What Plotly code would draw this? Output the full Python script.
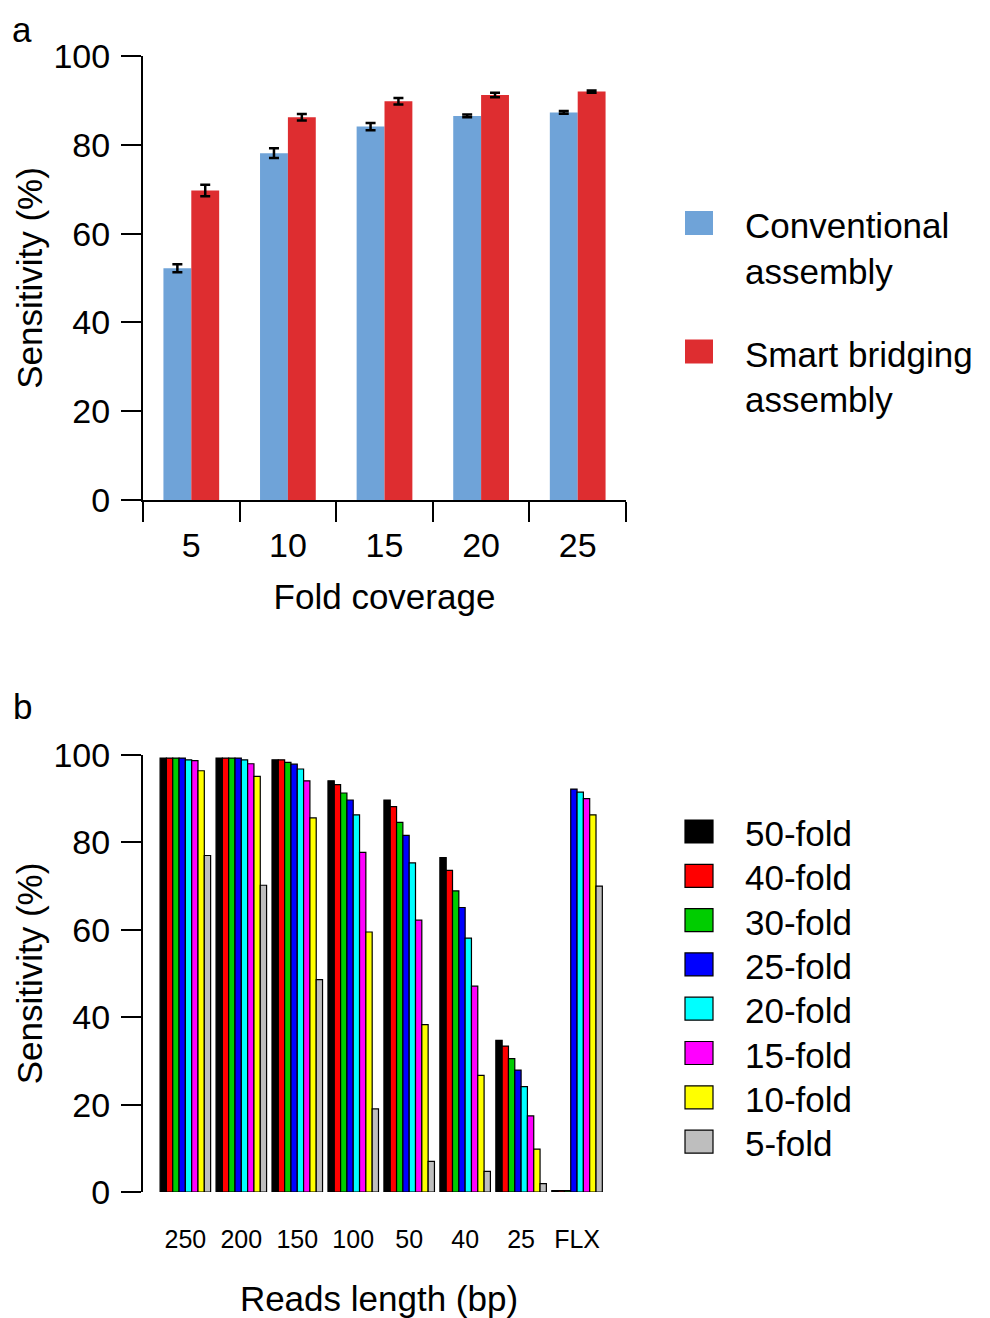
import plotly.graph_objects as go

# ---------------- data ----------------
coverage_labels = ["5", "10", "15", "20", "25"]
conventional = [52.2, 78.1, 84.1, 86.5, 87.3]
conventional_err = [0.9, 1.1, 0.8, 0.3, 0.3]
smart = [69.7, 86.2, 89.8, 91.2, 92.0]
smart_err = [1.3, 0.75, 0.75, 0.5, 0.25]

read_lengths = ["250", "200", "150", "100", "50", "40", "25", "FLX"]
fold_names = ["50-fold", "40-fold", "30-fold", "25-fold", "20-fold", "15-fold", "10-fold", "5-fold"]
fold_values = {
    "50-fold": [99.3, 99.3, 98.9, 94.1, 89.7, 76.5, 34.7, 0.3],
    "40-fold": [99.3, 99.3, 98.9, 93.2, 88.2, 73.6, 33.4, 0.3],
    "30-fold": [99.3, 99.3, 98.3, 91.3, 84.6, 68.9, 30.5, 0.3],
    "25-fold": [99.3, 99.3, 97.9, 89.7, 81.6, 65.1, 27.9, 92.2],
    "20-fold": [98.9, 98.9, 96.8, 86.3, 75.3, 58.1, 24.1, 91.5],
    "15-fold": [98.7, 98.0, 94.1, 77.7, 62.2, 47.1, 17.4, 90.0],
    "10-fold": [96.4, 95.1, 85.6, 59.5, 38.3, 26.7, 9.8, 86.3],
    "5-fold":  [77.0, 70.2, 48.6, 19.0, 7.0, 4.7, 1.9, 70.0],
}
fold_colors = ["#000000", "#ff0000", "#00cd00", "#0000ff", "#00ffff", "#ff00ff", "#ffff00", "#bebebe"]

blue = "#6fa3d8"
red = "#de2d30"

# the page has an 8px body margin, so the figure is sized to fit inside the window
OFF = 8
W, H = 990 - OFF, 1318 - OFF
FONT = "Liberation Sans, Arial, sans-serif"
TICK_SIZE = 34
TITLE_SIZE = 35
LEG_SIZE = 35

def px(x):
    return (x - OFF) / W

def py(y):
    return 1 - (y - OFF) / H

fig = go.Figure()

# ---------------- panel a ----------------
fig.add_trace(go.Bar(
    x=coverage_labels, y=conventional, name="Conventional assembly",
    marker=dict(color=blue, line=dict(width=0)),
    error_y=dict(type="data", array=conventional_err, color="black", thickness=2.5, width=5),
    xaxis="x", yaxis="y", showlegend=False,
))
fig.add_trace(go.Bar(
    x=coverage_labels, y=smart, name="Smart bridging assembly",
    marker=dict(color=red, line=dict(width=0)),
    error_y=dict(type="data", array=smart_err, color="black", thickness=2.5, width=5),
    xaxis="x", yaxis="y", showlegend=False,
))

# ---------------- panel b ----------------
n_f = len(fold_names)
group_w = 1 - 0.097
bw = group_w / n_f
for i, (name, col) in enumerate(zip(fold_names, fold_colors)):
    fig.add_trace(go.Bar(
        x=read_lengths, y=fold_values[name], name=name,
        marker=dict(color=col, line=dict(color="black", width=1.2)),
        width=bw, offset=-group_w / 2 + i * bw,
        xaxis="x2", yaxis="y2", showlegend=False,
    ))

axis_common = dict(
    showgrid=False, zeroline=False, linecolor="black", linewidth=2,
    tickcolor="black", tickwidth=2, ticks="outside", automargin=False,
    tickfont=dict(family=FONT, size=TICK_SIZE, color="black"),
)

fig.update_layout(
    width=W, height=H,
    margin=dict(l=0, r=0, t=0, b=0, autoexpand=False),
    paper_bgcolor="white", plot_bgcolor="white",
    font=dict(family=FONT, color="black"),
    barmode="group",
    bargap=0.423, bargroupgap=0,
    xaxis=dict(
        domain=[px(143), px(626)], anchor="y", type="category",
        range=[-0.5, 4.5], showline=True, tickson="boundaries", ticklen=20,
        ticklabelstandoff=14,
        title=dict(text="Fold coverage", font=dict(family=FONT, size=TITLE_SIZE), standoff=22),
        **axis_common,
    ),
    yaxis=dict(
        domain=[py(500), py(56)], anchor="x", range=[0, 100],
        tickvals=[0, 20, 40, 60, 80, 100], showline=True, ticklen=20,
        ticklabelstandoff=4,
        title=dict(text="Sensitivity (%)", font=dict(family=FONT, size=TITLE_SIZE), standoff=0),
        **axis_common,
    ),
    xaxis2=dict(
        domain=[px(143), px(615)], anchor="y2", type="category",
        range=[-0.757, 7.678], showline=False, ticks="",
        showgrid=False, zeroline=False, automargin=False,
        tickfont=dict(family=FONT, size=25, color="black"),
        ticklabelstandoff=30,
        title=dict(text="Reads length (bp)", font=dict(family=FONT, size=TITLE_SIZE), standoff=46),
    ),
    yaxis2=dict(
        domain=[py(1192), py(755)], anchor="x2", range=[0, 100],
        tickvals=[0, 20, 40, 60, 80, 100], showline=True, ticklen=20,
        ticklabelstandoff=4,
        title=dict(text="Sensitivity (%)", font=dict(family=FONT, size=TITLE_SIZE), standoff=0),
        **axis_common,
    ),
)

# ---------------- legends (manual) ----------------
shapes = []
annotations = []
leg_a = [("Conventional", "assembly", blue, 223), ("Smart bridging", "assembly", red, 351.5)]
for l1, l2, col, cy in leg_a:
    shapes.append(dict(type="rect", xref="paper", yref="paper",
                       x0=px(685), x1=px(713), y0=py(cy + 12), y1=py(cy - 12),
                       fillcolor=col, line=dict(width=0)))
    annotations.append(dict(text=l1, xref="paper", yref="paper", x=px(743), y=py(cy + 3),
                            xanchor="left", yanchor="middle", showarrow=False,
                            font=dict(family=FONT, size=LEG_SIZE, color="black")))
    annotations.append(dict(text=l2, xref="paper", yref="paper", x=px(743), y=py(cy + 48),
                            xanchor="left", yanchor="middle", showarrow=False,
                            font=dict(family=FONT, size=LEG_SIZE, color="black")))

for i, (name, col) in enumerate(zip(fold_names, fold_colors)):
    cy = 831.5 + 44.3 * i
    shapes.append(dict(type="rect", xref="paper", yref="paper",
                       x0=px(685), x1=px(713), y0=py(cy + 11.5), y1=py(cy - 11.5),
                       fillcolor=col, line=dict(color="black", width=1.2)))
    annotations.append(dict(text=name, xref="paper", yref="paper", x=px(743), y=py(cy + 2),
                            xanchor="left", yanchor="middle", showarrow=False,
                            font=dict(family=FONT, size=LEG_SIZE, color="black")))

annotations.append(dict(text="a", xref="paper", yref="paper", x=px(22), y=1,
                        xanchor="center", yanchor="top", showarrow=False,
                        font=dict(family=FONT, size=TITLE_SIZE, color="black")))
annotations.append(dict(text="b", xref="paper", yref="paper", x=px(22), y=py(706),
                        xanchor="center", yanchor="middle", showarrow=False,
                        font=dict(family=FONT, size=TITLE_SIZE, color="black")))

fig.update_layout(shapes=shapes, annotations=annotations)

fig.write_html("out.html")
